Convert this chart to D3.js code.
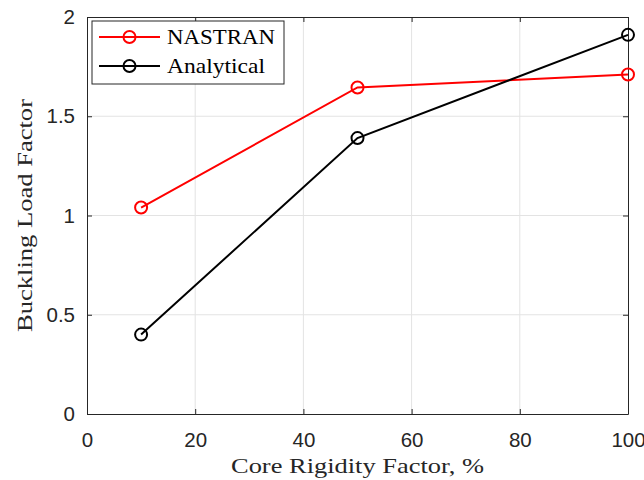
<!DOCTYPE html>
<html>
<head>
<meta charset="utf-8">
<script src="https://cdn.jsdelivr.net/npm/d3@7"></script>
<style>
  body { margin: 0; background: #fff; }
  svg { display: block; }
</style>
</head>
<body>
<svg id="chart"></svg>
<script>
"use strict";

// data
const coreFactor = [10, 50, 100];
const nastran = [1.04, 1.645, 1.71];
const analytical = [0.40, 1.39, 1.91];
const xTicks = [0, 20, 40, 60, 80, 100];
const yTicks = [0, 0.5, 1, 1.5, 2];
const seriesNames = ["NASTRAN", "Analytical"];
const seriesColors = ["#ff0000", "#000000"];

const svgWidth = 644, svgHeight = 480;
const margin = { top: 17, right: 16, bottom: 66, left: 87 };
const width = svgWidth - margin.left - margin.right;
const height = svgHeight - margin.top - margin.bottom;

const svg = d3.select("#chart")
  .attr("width", svgWidth)
  .attr("height", svgHeight);

const g = svg.append("g")
  .attr("transform", `translate(${margin.left},${margin.top})`);

const x = d3.scaleLinear().domain([0, 100]).range([0, width]);
const y = d3.scaleLinear().domain([0, 2]).range([height, 0]);

// grid
g.selectAll(".gx").data(xTicks.slice(1, -1)).enter().append("line")
  .attr("x1", d => x(d)).attr("x2", d => x(d))
  .attr("y1", 0).attr("y2", height)
  .attr("stroke", "#e3e3e3").attr("stroke-width", 1);
g.selectAll(".gy").data(yTicks.slice(1, -1)).enter().append("line")
  .attr("y1", d => y(d)).attr("y2", d => y(d))
  .attr("x1", 0).attr("x2", width)
  .attr("stroke", "#e3e3e3").attr("stroke-width", 1);

// axes (ticks pointing inward, box on all four sides)
const axisColor = "#262626";
const tickFont = "'Liberation Sans', Arial, sans-serif";

function styleAxis(sel) {
  sel.select(".domain").attr("stroke", axisColor).attr("stroke-width", 1);
  sel.selectAll(".tick line").attr("stroke", axisColor);
  sel.selectAll(".tick text")
    .attr("fill", axisColor)
    .style("font-family", tickFont)
    .style("font-size", "20.5px");
}

g.append("g")
  .attr("transform", `translate(0,${height})`)
  .call(d3.axisBottom(x).tickValues(xTicks).tickSize(-5).tickPadding(18).tickSizeOuter(0))
  .call(styleAxis);

g.append("g")
  .call(d3.axisLeft(y).tickValues(yTicks).tickSize(-5).tickPadding(12).tickSizeOuter(0)
    .tickFormat(d3.format("~g")))
  .call(styleAxis);

g.append("g")
  .call(d3.axisTop(x).tickValues(xTicks).tickSize(-5).tickFormat("").tickSizeOuter(0))
  .call(styleAxis);

g.append("g")
  .attr("transform", `translate(${width},0)`)
  .call(d3.axisRight(y).tickValues(yTicks).tickSize(-5).tickFormat("").tickSizeOuter(0))
  .call(styleAxis);

// series
const series = [nastran, analytical].map((vals, i) => ({
  name: seriesNames[i],
  color: seriesColors[i],
  points: coreFactor.map((c, j) => ({ x: c, y: vals[j] }))
}));

const line = d3.line().x(d => x(d.x)).y(d => y(d.y));

series.forEach(s => {
  g.append("path")
    .datum(s.points)
    .attr("fill", "none")
    .attr("stroke", s.color)
    .attr("stroke-width", 2)
    .attr("d", line);

  g.selectAll(null).data(s.points).enter().append("circle")
    .attr("cx", d => x(d.x))
    .attr("cy", d => y(d.y))
    .attr("r", 6)
    .attr("fill", "none")
    .attr("stroke", s.color)
    .attr("stroke-width", 2);
});

// axis labels (serif, LaTeX style)
const labelFont = "'Liberation Serif', 'DejaVu Serif', serif";

svg.append("text")
  .attr("x", margin.left + width / 2)
  .attr("y", 473)
  .attr("text-anchor", "middle")
  .attr("textLength", 253)
  .attr("lengthAdjust", "spacingAndGlyphs")
  .style("font-family", labelFont)
  .style("font-size", "22px")
  .attr("fill", axisColor)
  .text("Core Rigidity Factor, %");

svg.append("text")
  .attr("transform", `translate(32,${margin.top + height / 2}) rotate(-90)`)
  .attr("text-anchor", "middle")
  .attr("textLength", 233)
  .attr("lengthAdjust", "spacingAndGlyphs")
  .style("font-family", labelFont)
  .style("font-size", "22px")
  .attr("fill", axisColor)
  .text("Buckling Load Factor");

// legend
const legend = svg.append("g").attr("transform", "translate(92,21)");
legend.append("rect")
  .attr("width", 192).attr("height", 63)
  .attr("fill", "#fff")
  .attr("stroke", axisColor).attr("stroke-width", 1);

const rows = legend.selectAll(".row").data(series).enter().append("g")
  .attr("transform", (d, i) => `translate(0,${16 + i * 29})`);

rows.append("line")
  .attr("x1", 7).attr("x2", 68)
  .attr("stroke", d => d.color).attr("stroke-width", 2);
rows.append("circle")
  .attr("cx", 37.5).attr("r", 6)
  .attr("fill", "none")
  .attr("stroke", d => d.color).attr("stroke-width", 2);
rows.append("text")
  .attr("x", 75).attr("y", 7)
  .attr("textLength", (d, i) => [108, 98][i])
  .attr("lengthAdjust", "spacingAndGlyphs")
  .style("font-family", labelFont)
  .style("font-size", "21px")
  .attr("fill", "#000")
  .text(d => d.name);
</script>
</body>
</html>
